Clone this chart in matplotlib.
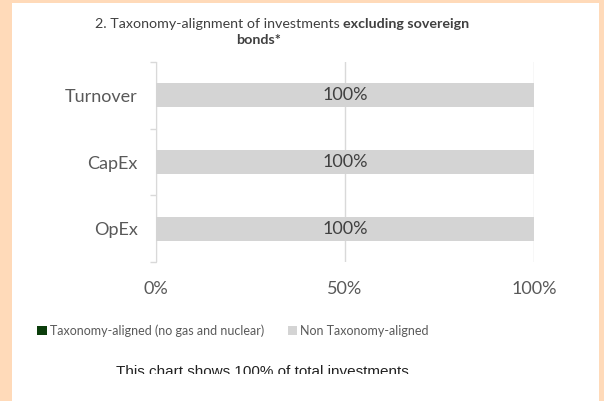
import matplotlib.pyplot as plt
from matplotlib.patches import Rectangle
from matplotlib.transforms import Bbox

categories = ['Turnover', 'CapEx', 'OpEx']
aligned = [0, 0, 0]
non_aligned = [100, 100, 100]
x_ticks = [0, 50, 100]
x_tick_labels = ['0%', '50%', '100%']

FONT = 'Lato'
TXT = '#595959'

fig = plt.figure(figsize=(6.04, 4.01), dpi=100)
fig.patch.set_facecolor('#FFDAB9')
fig.add_artist(Rectangle((12 / 604, 0), 587 / 604, 398 / 401, transform=fig.transFigure,
                         facecolor='white', edgecolor='none', zorder=0))

ax = fig.add_axes([156 / 604, 1 - 262 / 401, 378 / 604, 200 / 401])
ax.set_facecolor('none')

y = list(range(len(categories)))[::-1]
ax.barh(y, aligned, height=0.36, color='#0B3D0B', zorder=3, label='Taxonomy-aligned (no gas and nuclear)')
ax.barh(y, non_aligned, left=aligned, height=0.36, color='#D4D4D4', zorder=3, label='Non Taxonomy-aligned')

for yi, a, n in zip(y, aligned, non_aligned):
    ax.text(a + n / 2, yi, f'{n}%', ha='center', va='center', color='#404040',
            fontsize=13, family=FONT, zorder=4)

ax.set_xlim(0, 100)
ax.set_ylim(-0.5, len(categories) - 0.5)
ax.set_xticks(x_ticks)
ax.set_xticklabels(x_tick_labels, family=FONT, fontsize=13, color=TXT)
ax.set_yticks(y)
ax.set_yticklabels(categories, family=FONT, fontsize=13, color=TXT)
ax.set_yticks([-0.5, 0.5, 1.5, 2.5], minor=True)
ax.tick_params(axis='x', length=0, pad=14)
ax.tick_params(axis='y', which='major', length=0, pad=13)
ax.tick_params(axis='y', which='minor', length=4, color='#D9D9D9', width=1)

ax.xaxis.grid(True, color='#D9D9D9', linewidth=1, zorder=0)
ax.set_axisbelow(True)
for s in ['top', 'right', 'bottom']:
    ax.spines[s].set_visible(False)
ax.spines['left'].set_color('#D9D9D9')

# title: regular part followed by bold part on the same baseline
t1 = fig.text(95 / 604, 1 - 28 / 401, '2. Taxonomy-alignment of investments ',
              ha='left', va='baseline', fontsize=10.3, color='#404040', family=FONT)
fig.add_artist(plt.Annotation('excluding sovereign', xy=(1, 0), xycoords=t1, va='bottom',
                              fontsize=10.3, color='#404040', family=FONT, fontweight='bold'))
fig.text(259 / 604, 1 - 40 / 401, 'bonds*', ha='center', va='center', fontsize=10.3,
         color='#404040', family=FONT, fontweight='bold')

leg = fig.legend(loc='center left', bbox_to_anchor=(26 / 604, 1 - 331 / 401), ncol=2,
                 frameon=False, prop={'family': FONT, 'size': 9}, handlelength=0.75,
                 handleheight=0.75, handletextpad=0.25, columnspacing=1.9, labelcolor=TXT)

note = fig.text(262 / 604, 1 - 376 / 401, 'This chart shows 100% of total investments',
                ha='center', va='baseline', fontsize=11, color='#222222', family='Liberation Sans')
note.set_clip_box(Bbox.from_extents(0, 401 - 374, 604, 401))
note.set_clip_on(True)

fig.savefig('out.png', dpi=100, facecolor=fig.get_facecolor())
